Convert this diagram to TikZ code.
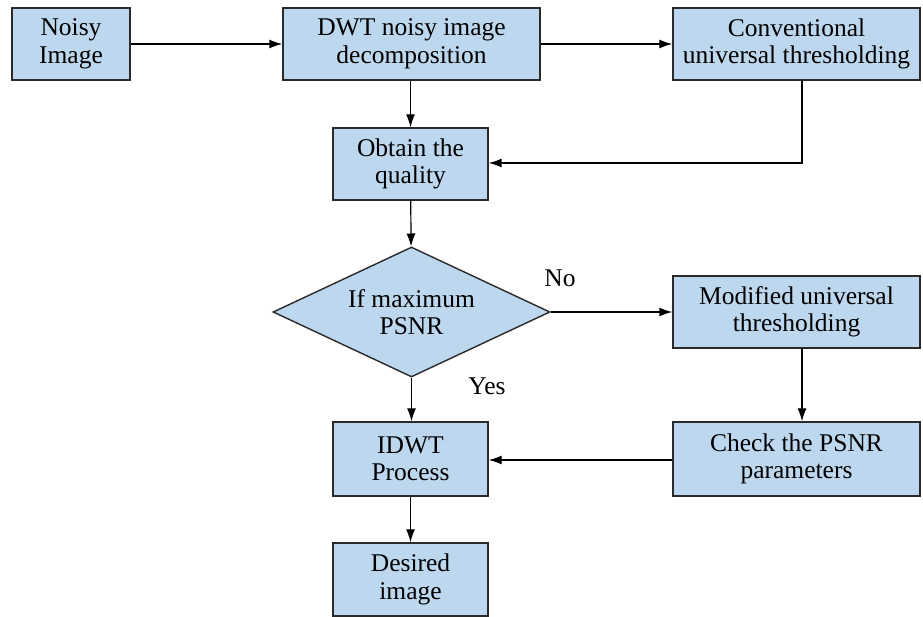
\documentclass[tikz,border=0pt]{standalone}
\usepackage{fontspec}
\setmainfont{Liberation Serif}
\newfontfamily\tnr{Liberation Serif}
\usetikzlibrary{shapes.geometric,arrows.meta}
\definecolor{boxfill}{HTML}{BDD7EE}
\definecolor{boxline}{HTML}{2A2A2A}
\begin{document}
\begin{tikzpicture}[x=1pt,y=-1pt,
  every node/.style={font=\tnr\fontsize{25.5}{27.5}\selectfont},
  box/.style={draw=boxline, fill=boxfill, line width=1.4pt, rectangle, align=center, inner sep=0pt},
  dec/.style={draw=boxline, fill=boxfill, line width=1.4pt, diamond, aspect=2.13, align=center, inner sep=0pt, minimum width=277pt, minimum height=130pt},
  conn/.style={draw=black, line width=1.2pt, -{Latex[length=13pt,width=9pt]}}]
\useasboundingbox (0,0) rectangle (923,617);
\node[box, minimum width=118pt, minimum height=72pt] (noisy) at (71,44) {Noisy\\Image};
\node[box, minimum width=257pt, minimum height=72pt] (dwt) at (411.5,44) {DWT noisy image\\decomposition};
\node[box, minimum width=247pt, minimum height=72pt] (conv) at (796.5,44) {Conventional\\universal thresholding};
\node[box, minimum width=155pt, minimum height=72pt] (obtain) at (410.5,164) {Obtain the\\quality};
\node[dec] (dec) at (411.5,312) {If maximum\\PSNR};
\node[box, minimum width=247pt, minimum height=72pt] (mod) at (796.5,312) {Modified universal\\thresholding};
\node[box, minimum width=155pt, minimum height=74pt] (idwt) at (410.5,459) {IDWT\\Process};
\node[box, minimum width=247pt, minimum height=74pt] (check) at (796.5,459) {Check the PSNR\\parameters};
\node[box, minimum width=155pt, minimum height=73pt] (desired) at (410.5,579.5) {Desired\\image};
\coordinate (bend) at (802,163);
\draw[conn] (noisy) -- (dwt);
\draw[conn] (dwt) -- (conv);
\draw[conn] (dwt.south -| obtain) -- (obtain);
\draw[conn] (conv.south -| bend) -- (bend) -- (obtain.east |- bend);
\draw[conn] (obtain) -- (dec);
\draw[conn] (dec) -- (mod);
\draw[conn] (dec.south) -- (idwt.north -| dec.south);
\draw[conn] (mod.south -| bend) -- (check.north -| bend);
\draw[conn] (check.west |- 0,460) -- (idwt.east |- 0,460);
\draw[conn] (idwt) -- (desired);
\node (no) at (560,278) {No};
\node (yes) at (487,386) {Yes};
\end{tikzpicture}
\end{document}
